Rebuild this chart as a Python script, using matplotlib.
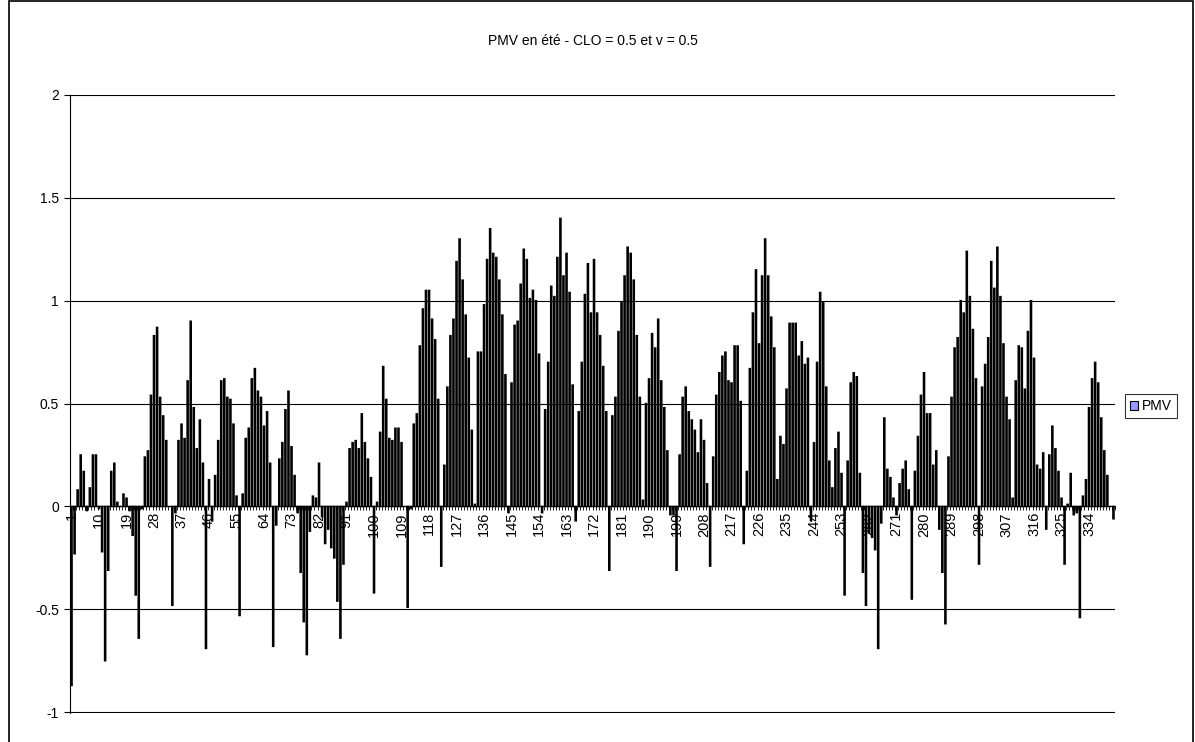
import matplotlib
matplotlib.use("Agg")
import matplotlib.pyplot as plt
from matplotlib.patches import Patch, Rectangle
import numpy as np

plt.rcParams['font.family'] = ['Liberation Sans', 'DejaVu Sans']

title = "PMV en été - CLO = 0.5 et v = 0.5"
series_name = "PMV"

# PMV values, one per category (1..342)
pmv = [
    -0.87, -0.23, 0.08, 0.25, 0.17, -0.02, 0.09, 0.25, 0.25, -0.01,    # 1-10
    -0.22, -0.75, -0.31, 0.17, 0.21, 0.02, 0.00, 0.06, 0.04, -0.02,    # 11-20
    -0.14, -0.43, -0.64, -0.01, 0.24, 0.27, 0.54, 0.83, 0.87, 0.53,    # 21-30
    0.44, 0.32, 0.00, -0.48, -0.03, 0.32, 0.40, 0.33, 0.61, 0.90,      # 31-40
    0.48, 0.28, 0.42, 0.21, -0.69, 0.13, -0.07, 0.15, 0.32, 0.61,      # 41-50
    0.62, 0.53, 0.52, 0.40, 0.05, -0.53, 0.06, 0.33, 0.38, 0.62,       # 51-60
    0.67, 0.56, 0.53, 0.39, 0.46, 0.21, -0.68, -0.09, 0.23, 0.31,      # 61-70
    0.47, 0.56, 0.29, 0.15, -0.03, -0.32, -0.56, -0.72, -0.12, 0.05,   # 71-80
    0.04, 0.21, -0.05, -0.18, -0.11, -0.20, -0.25, -0.46, -0.64, -0.28,  # 81-90
    0.02, 0.28, 0.31, 0.32, 0.28, 0.45, 0.31, 0.23, 0.14, -0.42,       # 91-100
    0.02, 0.36, 0.68, 0.52, 0.33, 0.32, 0.38, 0.38, 0.31, 0.00,        # 101-110
    -0.49, -0.01, 0.40, 0.45, 0.78, 0.96, 1.05, 1.05, 0.91, 0.81,      # 111-120
    0.52, -0.29, 0.20, 0.58, 0.83, 0.91, 1.19, 1.30, 1.10, 0.93,       # 121-130
    0.72, 0.37, 0.01, 0.75, 0.75, 0.98, 1.20, 1.35, 1.23, 1.21,        # 131-140
    1.10, 0.93, 0.64, -0.03, 0.60, 0.88, 0.90, 1.08, 1.25, 1.20,       # 141-150
    1.01, 1.05, 1.00, 0.74, -0.03, 0.47, 0.70, 1.07, 1.02, 1.21,       # 151-160
    1.40, 1.12, 1.23, 1.04, 0.59, -0.07, 0.46, 0.70, 1.03, 1.18,       # 161-170
    0.94, 1.20, 0.94, 0.83, 0.68, 0.46, -0.31, 0.44, 0.53, 0.85,       # 171-180
    0.99, 1.12, 1.26, 1.23, 1.10, 0.83, 0.53, 0.03, 0.50, 0.62,        # 181-190
    0.84, 0.77, 0.91, 0.61, 0.48, 0.27, -0.04, -0.04, -0.31, 0.25,     # 191-200
    0.53, 0.58, 0.46, 0.42, 0.37, 0.26, 0.42, 0.32, 0.11, -0.29,       # 201-210
    0.24, 0.54, 0.65, 0.73, 0.75, 0.61, 0.60, 0.78, 0.78, 0.51,        # 211-220
    -0.18, 0.17, 0.67, 0.94, 1.15, 0.79, 1.12, 1.30, 1.12, 0.92,       # 221-230
    0.77, 0.13, 0.34, 0.30, 0.57, 0.89, 0.89, 0.89, 0.73, 0.80,        # 231-240
    0.69, 0.72, -0.07, 0.31, 0.70, 1.04, 0.99, 0.58, 0.22, 0.09,       # 241-250
    0.28, 0.36, 0.16, -0.43, 0.22, 0.60, 0.65, 0.63, 0.16, -0.32,      # 251-260
    -0.48, -0.13, -0.15, -0.21, -0.69, -0.08, 0.43, 0.18, 0.14, 0.04,  # 261-270
    -0.04, 0.11, 0.18, 0.22, 0.08, -0.45, 0.17, 0.34, 0.54, 0.65,      # 271-280
    0.45, 0.45, 0.20, 0.27, -0.11, -0.32, -0.57, 0.24, 0.53, 0.77,     # 281-290
    0.82, 1.00, 0.94, 1.24, 1.02, 0.86, 0.62, -0.28, 0.58, 0.69,       # 291-300
    0.82, 1.19, 1.06, 1.26, 1.02, 0.79, 0.53, 0.42, 0.04, 0.61,        # 301-310
    0.78, 0.77, 0.57, 0.85, 1.00, 0.72, 0.20, 0.18, 0.26, -0.11,       # 311-320
    0.25, 0.39, 0.28, 0.17, 0.04, -0.28, 0.01, 0.16, -0.04, -0.03,     # 321-330
    -0.54, 0.05, 0.13, 0.48, 0.62, 0.70, 0.60, 0.43, 0.27, 0.15,       # 331-340
    0.00, -0.06,                                                       # 341-342
]

categories = np.arange(1, len(pmv) + 1)
label_cats = categories[::9]
y_ticks = [-1, -0.5, 0, 0.5, 1, 1.5, 2]
y_labels = ["-1", "-0.5", "0", "0.5", "1", "1.5", "2"]

W, H = 1195, 742
fig = plt.figure(figsize=(W / 100, H / 100), dpi=100)
ax = fig.add_axes([70 / W, 1 - 713 / H, (1115 - 70) / W, (713 - 95) / H])

# bars: so thin that the black outline hides the fill, like the excel export
ax.bar(categories, pmv, width=0.35, color='#9999FF', edgecolor='black', linewidth=1.1,
       zorder=3, snap=False)

ax.set_xlim(0.5, len(pmv) + 0.5)
ax.set_ylim(-1.004, 2)

# grid and spines, excel-like
ax.set_yticks(y_ticks)
ax.set_yticklabels(y_labels, fontsize=10)
ax.yaxis.grid(True, color='black', linewidth=0.8)
ax.set_axisbelow(True)
for s in ['top', 'right']:
    ax.spines[s].set_visible(False)
ax.spines['bottom'].set_position(('data', 0))
ax.spines['bottom'].set_zorder(4)
ax.spines['left'].set_linewidth(0.8)
ax.spines['bottom'].set_linewidth(0.8)
ax.tick_params(axis='y', direction='out', length=4, width=0.8, pad=4)

# category ticks at each boundary, labels every 9 categories
ax.set_xticks(np.arange(0.5, len(pmv) + 1, 1))
ax.set_xticklabels([])
ax.tick_params(axis='x', which='major', direction='out', length=3, width=0.6)
ax.set_xticks(label_cats, [str(c) for c in label_cats], minor=True)
ax.tick_params(axis='x', which='minor', length=0, pad=4, labelsize=10.5, labelrotation=90)

fig.text(593 / W, 1 - 41 / H, title, ha='center', va='center', fontsize=10)

leg = fig.legend(handles=[Patch(facecolor='#9999FF', edgecolor='black', linewidth=0.8, label=series_name)],
                 loc='center', bbox_to_anchor=(1151 / W, 1 - 406 / H), fontsize=10,
                 frameon=True, fancybox=False, handlelength=0.6, handleheight=0.6,
                 handletextpad=0.3, borderpad=0.35, borderaxespad=0)
leg.get_frame().set_edgecolor('black')
leg.get_frame().set_linewidth(0.8)

# chart area border
fig.patches.append(Rectangle((9 / W, -0.01), (1193 - 9) / W, 1.0 - 1.0 / H + 0.01,
                             transform=fig.transFigure, fill=False, edgecolor='black', linewidth=1.2))

fig.savefig("out.png", dpi=100)
